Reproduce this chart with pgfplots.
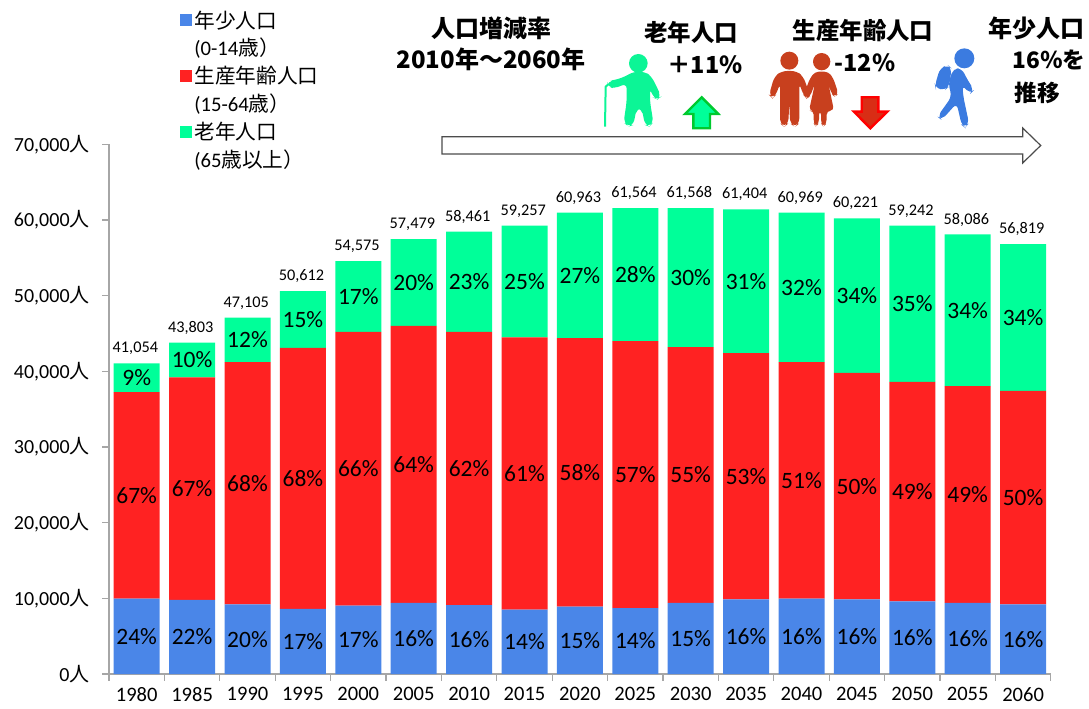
\documentclass[border=0pt]{standalone}
\usepackage{pgfplots}
\usepackage{pgfplotstable}
\usepackage{fontspec}
\pgfplotsset{compat=1.18}
\setmainfont{Carlito}
\newfontfamily\cjk{Noto Sans CJK JP}
\definecolor{cblue}{HTML}{4A86E8}
\definecolor{cred}{HTML}{FF2222}
\definecolor{cgreen}{HTML}{00FF99}
\definecolor{caxis}{HTML}{A6A6A6}
\definecolor{iconred}{HTML}{C8401E}
\definecolor{iconblue}{HTML}{3B7BE0}
\definecolor{icongreen}{HTML}{0CF596}
\newcommand{\px}{0.75pt}
\pgfplotstableread{
x blue red green
0 9950 27300 3804
1 9800 29400 4603
2 9200 32000 5905
3 8600 34500 7512
4 9050 36150 9375
5 9400 36600 11479
6 9100 36100 13261
7 8500 36000 14757
8 8900 35500 16563
9 8700 35300 17564
10 9400 33800 18368
11 9850 32550 19004
12 9950 31250 19769
13 9850 29950 20421
14 9600 29000 20642
15 9400 28650 20036
16 9200 28200 19419
}\populationdata
\pgfplotstableread{
x yb pb yr pr yg pg total
0 4975 24 23600 67 39152 9 41054
1 4900 22 24500 67 41502 10 43803
2 4600 20 25200 68 44152 12 47105
3 4300 17 25850 68 46856 15 50612
4 4525 17 27125 66 49888 17 54575
5 4700 16 27700 64 51740 20 57479
6 4550 16 27150 62 51830 23 58461
7 4250 14 26500 61 51878 25 59257
8 4450 15 26650 58 52682 27 60963
9 4350 14 26350 57 52782 28 61564
10 4700 15 26300 55 52384 30 61568
11 4925 16 26125 53 51902 31 61404
12 4975 16 25575 51 51085 32 60969
13 4925 16 24825 50 50010 34 60221
14 4800 16 24100 49 48921 35 59242
15 4700 16 23725 49 48068 34 58086
16 4600 16 23300 50 47110 34 56819
}\labeldata
\pgfplotsset{
  base/.style={
    scale only axis, width=941.8*\px, height=529.7*\px,
    at={(109*\px,34*\px)}, anchor=south west,
    xmin=-0.5, xmax=16.5, ymin=0, ymax=70000,
  },
  pct/.style={draw=none, mark=none, nodes near coords={\pgfmathprintnumber[fixed,precision=0,assume math mode=true]{\pgfplotspointmeta}\%},
    nodes near coords style={anchor=center, font=\fontsize{17.6}{17.6}\selectfont, text=black, inner sep=0pt},
    point meta=explicit},
  swatch/.style={legend image code/.code={\fill[##1] (0pt,-4.5pt) rectangle (9pt,4.5pt);}},
}
\begin{document}
\begin{tikzpicture}[x=1pt,y=1pt]
\path[use as bounding box] (0,0) rectangle (816.75pt,531pt);
\begin{axis}[base,
  ybar stacked, bar width=34.5pt,
  axis x line*=bottom, axis y line*=left,
  axis line style={caxis, line width=1.1pt, -},
  every tick/.style={caxis, line width=0.9pt},
  tick align=outside,
  major tick length=5pt,
  scaled y ticks=false,
  xtick={-0.5,0.5,...,16.5},
  xticklabels={1980,1985,1990,1995,2000,2005,2010,2015,2020,2025,2030,2035,2040,2045,2050,2055,2060},
  x tick label as interval,
  x tick label style={font=\fontsize{15.4}{15.4}\selectfont, text=black, yshift=-4.8pt, inner sep=0pt},
  ytick={0,10000,...,70000},
  yticklabels={{0{\cjk 人}},{10,000{\cjk 人}},{20,000{\cjk 人}},{30,000{\cjk 人}},{40,000{\cjk 人}},{50,000{\cjk 人}},{60,000{\cjk 人}},{70,000{\cjk 人}}},
  y tick label style={font=\fontsize{15}{15}\selectfont, text=black, xshift=-6pt},
  legend style={at={(rel axis cs:0.0748,0.9472)}, anchor=south west, draw=none, fill=none,
    font=\fontsize{15.5}{15.5}\selectfont, row sep=2.2pt, inner sep=0pt,
    /tikz/every even column/.style={column sep=6.3pt}},
  legend cell align=left,
  clip=false,
]
\addplot[fill=cblue, draw=none, swatch] table[x=x,y=blue]{\populationdata};
\addlegendentry{{\cjk 年少人口}}
\addlegendimage{empty legend}
\addlegendentry{(0-14{\cjk 歳）}}
\addplot[fill=cred, draw=none, swatch] table[x=x,y=red]{\populationdata};
\addlegendentry{{\cjk 生産年齢人口}}
\addlegendimage{empty legend}
\addlegendentry{(15-64{\cjk 歳）}}
\addplot[fill=cgreen, draw=none, swatch] table[x=x,y=green]{\populationdata};
\addlegendentry{{\cjk 老年人口}}
\addlegendimage{empty legend}
\addlegendentry{(65{\cjk 歳以上）}}
\end{axis}
\begin{axis}[base, hide axis, clip=false]
\addplot[pct] table[x=x,y=yb,meta=pb]{\labeldata};
\addplot[pct] table[x=x,y=yr,meta=pr]{\labeldata};
\addplot[pct] table[x=x,y=yg,meta=pg]{\labeldata};
\addplot[draw=none, mark=none, point meta=explicit,
  nodes near coords={\pgfmathprintnumber[fixed,precision=0,1000 sep={,},assume math mode=true]{\pgfplotspointmeta}},
  nodes near coords style={anchor=south, font=\fontsize{12.2}{12.2}\selectfont, text=black, inner sep=0pt, yshift=6pt, xshift=-1pt}]
  table[x=x,y=total,meta=total]{\labeldata};
\end{axis}
\begin{scope}[x=0.75pt,y=-0.75pt,yshift=531pt]
% timeline arrow
\draw[draw=black!70, line width=0.9pt, fill=white] (442,136.7)--(1022.7,136.7)--(1022.7,128)--(1040.7,145.5)--(1022.7,163)--(1022.7,154)--(442,154)--cycle;
% texts
\node[font=\cjk\bfseries\fontsize{18}{18}\selectfont] at (491,28) {人口増減率};
\node[font=\cjk\bfseries\fontsize{18}{18}\selectfont] at (491,59) {2010年～2060年};
\node[font=\cjk\bfseries\fontsize{17.6}{17.6}\selectfont] at (691,33) {老年人口};
\node[font=\cjk\bfseries\fontsize{17.6}{17.6}\selectfont] at (863,31) {生産年齢人口};
\node[font=\cjk\bfseries\fontsize{18}{18}\selectfont] at (1036.5,28) {年少人口};
\node[font=\cjk\bfseries\fontsize{17.6}{17.6}\selectfont] at (705,65) {＋11\%};
\node[font=\cjk\bfseries\fontsize{17.6}{17.6}\selectfont] at (865,63) {-12\%};
\node[font=\cjk\bfseries\fontsize{17}{17}\selectfont] at (1049,60) {16％を};
\node[font=\cjk\bfseries\fontsize{17}{17}\selectfont] at (1037,93) {推移};
% arrows
\draw[draw=black!30!green!70!cgreen, line width=1.8pt, fill=cgreen] (701.7,97.3)--(718.3,114)--(710,114)--(710,128.3)--(693.3,128.3)--(693.3,114)--(685,114)--cycle;
\draw[draw=red, line width=1.8pt, fill=iconred!70!red] (861.7,97.3)--(878.3,97.3)--(878.3,111.7)--(887.3,111.7)--(870.3,128.3)--(854,111.7)--(861.7,111.7)--cycle;
% elder (coordinates in crop units of a third of a pixel)
\begin{scope}[shift={(600,45)},x=0.25pt,y=-0.25pt]
\fill[icongreen] (115,55) circle (28);
\draw[icongreen, line width=1.5pt, line join=round] (15,245)--(17,125)--(25,118);
\fill[icongreen, rounded corners=4pt] (100,80)--(135,80)--(155,95)--(170,125)--(184,155)--(172,163)--(160,158)--(150,130)--(150,170)--(160,232)--(148,245)--(135,240)--(125,190)--(110,190)--(100,240)--(85,245)--(71,232)--(80,170)--(80,115)--(45,130)--(23,127)--(23,108)--(45,105)--(75,95)--cycle;
\end{scope}
% man and woman
\begin{scope}[shift={(765,45)},x=0.25pt,y=-0.25pt]
\fill[iconred] (73,47) circle (27);
\fill[iconred, rounded corners=4pt] (50,78)--(95,78)--(115,95)--(135,150)--(125,160)--(115,150)--(103,115)--(103,235)--(90,246)--(75,235)--(73,170)--(70,235)--(58,246)--(45,235)--(45,115)--(33,150)--(22,160)--(12,150)--(28,95)--cycle;
\fill[iconred] (170,50) circle (26);
\fill[iconred, rounded corners=3pt] (150,80)--(190,80)--(205,100)--(220,145)--(210,156)--(200,148)--(190,115)--(207,197)--(185,197)--(185,235)--(175,245)--(168,235)--(168,197)--(162,197)--(162,235)--(152,245)--(146,235)--(146,197)--(132,197)--(150,115)--(135,155)--(125,160)--(116,150)--(135,100)--cycle;
\end{scope}
% child
\begin{scope}[shift={(925,40)},x=0.25pt,y=-0.25pt]
\fill[iconblue] (118,55) circle (30);
\fill[iconblue, rounded corners=4pt] (30,135)--(45,85)--(68,75)--(80,85)--(72,140)--(60,150)--(32,145)--cycle;
\fill[iconblue, rounded corners=4pt] (85,85)--(110,85)--(125,115)--(147,150)--(135,162)--(112,135)--(115,170)--(132,250)--(120,263)--(110,255)--(95,190)--(50,240)--(37,230)--(80,170)--(70,130)--cycle;
\end{scope}
\end{scope}
\end{tikzpicture}
\end{document}
